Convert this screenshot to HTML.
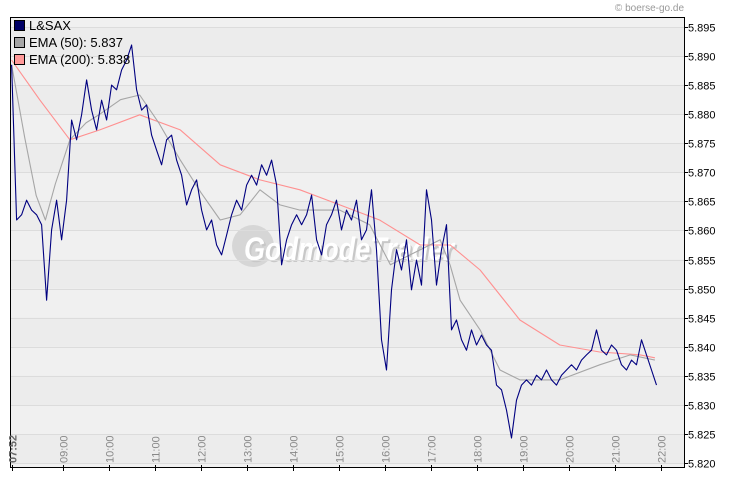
<!DOCTYPE html>
<html><head><meta charset="utf-8"><style>
body{margin:0;background:#fff;width:730px;height:481px;overflow:hidden;font-family:"Liberation Sans",sans-serif}
</style></head><body>
<svg width="730" height="481" xmlns="http://www.w3.org/2000/svg" font-family="Liberation Sans, sans-serif">
<g id="bands"></g>
<g>
<circle cx="253" cy="246" r="21" fill="#d6d6d6"/>
<text x="244" y="260" font-size="32" font-weight="bold" font-style="italic" fill="#c8c8c8" textLength="210" lengthAdjust="spacingAndGlyphs" transform="translate(2,2)">GodmodeTrader</text>
<text x="244" y="260" font-size="32" font-weight="bold" font-style="italic" fill="#ffffff" textLength="210" lengthAdjust="spacingAndGlyphs">GodmodeTrader</text>
</g>
<g id="grid"></g>
<g id="series"></g>
<rect x="10.5" y="17.5" width="674" height="450" fill="none" stroke="#000"/>
<g id="axes"></g>
<g font-size="13" fill="#000">
<rect x="14.5" y="20.5" width="10" height="10" fill="#000066" stroke="#000"/><text x="29" y="30">L&amp;SAX</text>
<rect x="14.5" y="37.5" width="10" height="10" fill="#a6a6a6" stroke="#000"/><text x="29" y="47">EMA (50): 5.837</text>
<rect x="14.5" y="54.5" width="10" height="10" fill="#ff9999" stroke="#000"/><text x="29" y="64">EMA (200): 5.838</text>
</g>
<text x="684" y="11" font-size="10" fill="#999" text-anchor="end">© boerse-go.de</text>
</svg>
<script>
const startMin = 473, stepMin = 6.52;
const prices = [5.8885,5.8618,5.8627,5.8652,5.8635,5.8627,5.8610,5.8480,5.8601,5.8652,5.8584,5.8652,5.8790,5.8756,5.8799,5.8859,5.8807,5.8773,5.8824,5.8790,5.8850,5.8842,5.8876,5.8893,5.8919,5.8842,5.8807,5.8816,5.8764,5.8738,5.8713,5.8756,5.8764,5.8721,5.8695,5.8644,5.8670,5.8687,5.8635,5.8601,5.8618,5.8575,5.8558,5.8592,5.8627,5.8652,5.8635,5.8678,5.8695,5.8678,5.8713,5.8695,5.8721,5.8678,5.8541,5.8584,5.8610,5.8627,5.8610,5.8627,5.8661,5.8584,5.8558,5.8610,5.8627,5.8652,5.8601,5.8635,5.8618,5.8652,5.8584,5.8601,5.8670,5.8567,5.8412,5.8360,5.8498,5.8567,5.8532,5.8584,5.8498,5.8549,5.8506,5.8670,5.8618,5.8506,5.8567,5.8610,5.8429,5.8446,5.8412,5.8394,5.8429,5.8403,5.8420,5.8403,5.8394,5.8334,5.8326,5.8291,5.8243,5.8308,5.8334,5.8343,5.8334,5.8351,5.8343,5.8360,5.8343,5.8334,5.8351,5.8360,5.8369,5.8360,5.8377,5.8386,5.8394,5.8429,5.8394,5.8386,5.8403,5.8394,5.8369,5.8360,5.8377,5.8369,5.8412,5.8386,5.8360,5.8334];
const ema50Times = [473,490,505,517,530,549,570,588,615,640,665,693,720,745,771,797,823,849,901,940,967,1006,1032,1045,1058,1084,1110,1136,1188,1240,1280,1312];
const ema50Values = [5.8885,5.8760,5.8660,5.8618,5.8680,5.8756,5.8785,5.8800,5.8825,5.8833,5.8785,5.8721,5.8665,5.8618,5.8627,5.8670,5.8644,5.8635,5.8635,5.8610,5.8541,5.8567,5.8584,5.8540,5.8480,5.8429,5.8360,5.8343,5.8343,5.8369,5.8386,5.8377];
const ema200Times = [473,510,549,588,640,693,745,797,849,901,953,1006,1045,1084,1136,1188,1240,1293,1312];
const ema200Values = [5.8893,5.8824,5.8756,5.8773,5.8799,5.8773,5.8713,5.8687,5.8670,5.8644,5.8618,5.8575,5.8575,5.8532,5.8446,5.8403,5.8391,5.8386,5.8381];
const yTicks = [5.820,5.825,5.830,5.835,5.840,5.845,5.850,5.855,5.860,5.865,5.870,5.875,5.880,5.885,5.890,5.895];
const xTickLabels = ["09:00","10:00","11:00","12:00","13:00","14:00","15:00","16:00","17:00","18:00","19:00","20:00","21:00","22:00"];
const xTickMins = [540,600,660,720,780,840,900,960,1020,1080,1140,1200,1260,1320];

const NS="http://www.w3.org/2000/svg";
function X(m){return 63+(m-540)*46/60;}
function Y(v){return 463-(v-5.820)/0.075*436;}
function mk(t,a,p){const e=document.createElementNS(NS,t);for(const k in a)e.setAttribute(k,a[k]);p.appendChild(e);return e;}
const bands=document.getElementById('bands'),grid=document.getElementById('grid'),axes=document.getElementById('axes'),series=document.getElementById('series');
mk('rect',{x:10,y:17,width:675,height:451,fill:'#f0f0f0'},bands);
for(let i=0;i<yTicks.length-1;i+=2){
  const b=mk('rect',{x:11,y:Y(yTicks[i+1]),width:673,height:Y(yTicks[i])-Y(yTicks[i+1]),fill:'#ececec'},bands);
  
  
}
yTicks.forEach(v=>{
  const y=Math.round(Y(v))+0.5;
  const l=mk('line',{x1:11,x2:684,y1:y,y2:y,stroke:'#dcdcdc'},grid);
  
  
  const t=mk('text',{x:688,y:y+4,'font-size':11,fill:'#000'},axes);
  t.textContent=v.toFixed(3);
  
  
  mk('line',{x1:684,x2:688,y1:y,y2:y,stroke:'#000'},axes);
});
function addXLabel(m,label,bold){
  const x=Math.round(X(m))+0.5;
  mk('line',{x1:x,x2:x,y1:465,y2:471,stroke:'#000'},axes);
  const t=mk('text',{transform:`translate(${x+4},463) rotate(-90)`,'font-size':11,fill:bold?'#666':'#888','font-weight':bold?'bold':'normal'},axes);
  t.textContent=label;
  
  
}
addXLabel(startMin+1,"07:52",true);
xTickMins.forEach((m,i)=>addXLabel(m,xTickLabels[i],false));
function path(pts,color,w,name){
  const p=mk('path',{d:'M'+pts.map(q=>q[0].toFixed(1)+','+q[1].toFixed(1)).join('L'),fill:'none',stroke:color,'stroke-width':w,'stroke-linejoin':'round'},series);
  
  
}
path(ema200Times.map((t,i)=>[X(t),Y(ema200Values[i])]),'#ff9090',1.1,'ema200-line');
path(ema50Times.map((t,i)=>[X(t),Y(ema50Values[i])]),'#a6a6a6',1.1,'ema50-line');
path(prices.map((v,i)=>[X(startMin+i*stepMin),Y(v)]),'#000080',1.1,'price-line');
</script>
</body></html>
